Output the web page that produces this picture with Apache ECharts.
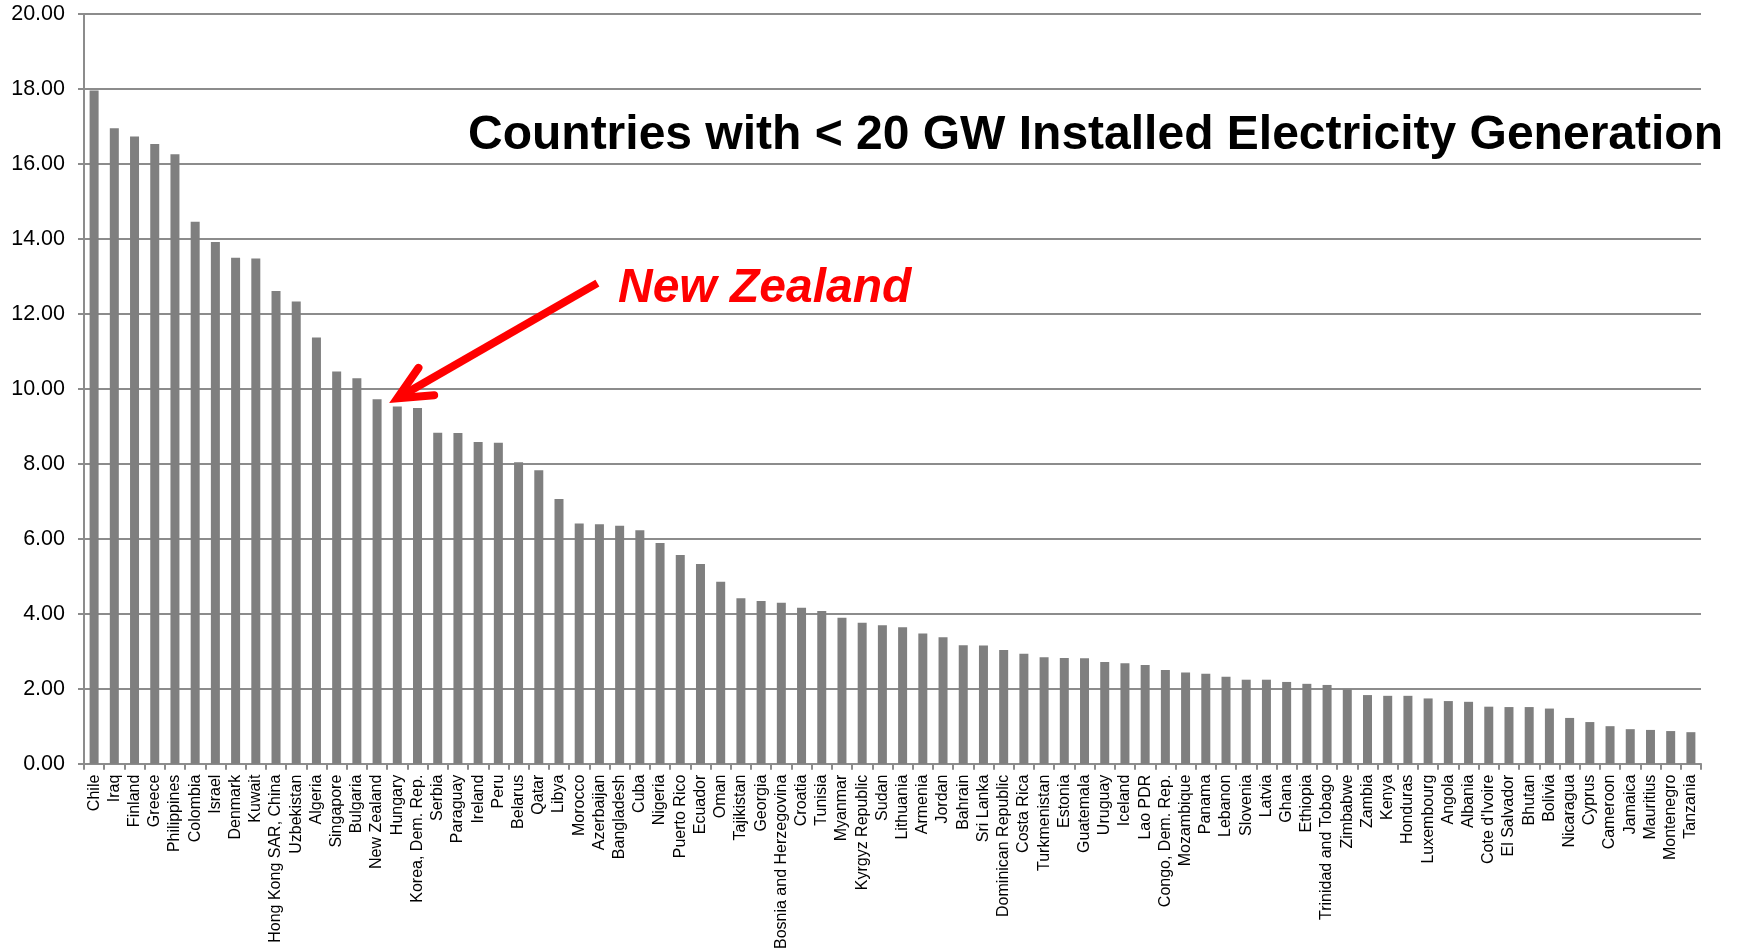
<!DOCTYPE html>
<html>
<head>
<meta charset="utf-8">
<script src="https://cdn.jsdelivr.net/npm/echarts@6/dist/echarts.min.js"></script>
<style>
html,body{margin:0;padding:0;background:#fff;}
#main{width:1739px;height:952px;}
</style>
</head>
<body>
<div id="main"></div>
<script>
const countries = ["Chile","Iraq","Finland","Greece","Philippines","Colombia","Israel","Denmark","Kuwait","Hong Kong SAR, China","Uzbekistan","Algeria","Singapore","Bulgaria","New Zealand","Hungary","Korea, Dem. Rep.","Serbia","Paraguay","Ireland","Peru","Belarus","Qatar","Libya","Morocco","Azerbaijan","Bangladesh","Cuba","Nigeria","Puerto Rico","Ecuador","Oman","Tajikistan","Georgia","Bosnia and Herzegovina","Croatia","Tunisia","Myanmar","Kyrgyz Republic","Sudan","Lithuania","Armenia","Jordan","Bahrain","Sri Lanka","Dominican Republic","Costa Rica","Turkmenistan","Estonia","Guatemala","Uruguay","Iceland","Lao PDR","Congo, Dem. Rep.","Mozambique","Panama","Lebanon","Slovenia","Latvia","Ghana","Ethiopia","Trinidad and Tobago","Zimbabwe","Zambia","Kenya","Honduras","Luxembourg","Angola","Albania","Cote d'Ivoire","El Salvador","Bhutan","Bolivia","Nicaragua","Cyprus","Cameroon","Jamaica","Mauritius","Montenegro","Tanzania"];
const values = [17.96,16.95,16.73,16.53,16.26,14.46,13.92,13.50,13.48,12.61,12.33,11.37,10.46,10.28,9.72,9.53,9.49,8.83,8.82,8.58,8.56,8.04,7.83,7.06,6.41,6.39,6.35,6.23,5.89,5.57,5.33,4.85,4.41,4.34,4.29,4.16,4.07,3.89,3.76,3.69,3.64,3.47,3.37,3.16,3.15,3.03,2.93,2.84,2.82,2.81,2.71,2.68,2.63,2.50,2.43,2.40,2.32,2.24,2.24,2.18,2.13,2.10,1.98,1.83,1.81,1.81,1.74,1.67,1.65,1.52,1.51,1.51,1.47,1.22,1.11,1.00,0.92,0.90,0.87,0.84];
const yTicks = {min: 0, max: 20, interval: 2};
const titleText = "Countries with < 20 GW Installed Electricity Generation";
const calloutText = "New Zealand";
const calloutCountry = "New Zealand";

const chart = echarts.init(document.getElementById('main'), null, {renderer: 'canvas'});
const gridColor = '#8c8c8c';
const font = 'Liberation Sans, Arial, sans-serif';

chart.setOption({
  animation: false,
  backgroundColor: '#ffffff',
  grid: {left: 84, right: 38, top: 14, bottom: 181, containLabel: false},
  xAxis: {
    type: 'category',
    data: countries,
    boundaryGap: true,
    axisLine: {show: true, lineStyle: {color: gridColor, width: 2}},
    axisTick: {show: true, length: 6, alignWithLabel: false, interval: 0, lineStyle: {color: gridColor, width: 2}},
    axisLabel: {interval: 0, rotate: 90, fontSize: 16, color: '#000', fontFamily: font, margin: 11},
    splitLine: {show: false}
  },
  yAxis: {
    type: 'value',
    min: yTicks.min, max: yTicks.max, interval: yTicks.interval,
    axisLine: {show: true, lineStyle: {color: gridColor, width: 2}},
    axisTick: {show: true, length: 6, lineStyle: {color: gridColor, width: 2}},
    axisLabel: {fontSize: 21.5, color: '#000', fontFamily: font, margin: 19, formatter: v => v.toFixed(2)},
    splitLine: {show: true, lineStyle: {color: gridColor, width: 2}}
  },
  series: [{
    type: 'bar',
    data: values,
    barWidth: 9,
    itemStyle: {color: '#7f7f7f'}
  }]
});

// annotation positions derived from the axes
const iNZ = countries.indexOf(calloutCountry);
const p0 = chart.convertToPixel({seriesIndex: 0}, [iNZ, 9.75]);
const p1 = chart.convertToPixel({seriesIndex: 0}, [iNZ + 1, 9.75]);
const band = p1[0] - p0[0];
const tip = [p0[0] + band * 1.0, p0[1]];
const sPt = chart.convertToPixel({seriesIndex: 0}, [iNZ + 10, 12.82]);
const start = [sPt[0] + band * 0.9, sPt[1]];
const ang = Math.atan2(start[1] - tip[1], start[0] - tip[0]);
const armLen = 37, spread = 0.44;
const a1 = [tip[0] + armLen * Math.cos(ang + spread), tip[1] + armLen * Math.sin(ang + spread)];
const a2 = [tip[0] + armLen * Math.cos(ang - spread), tip[1] + armLen * Math.sin(ang - spread)];

chart.setOption({
  graphic: [
    {type: 'text', left: 468, top: 112, style: {text: titleText, font: 'bold 48px ' + font, fill: '#000'}},
    {type: 'text', left: 618, top: 265, style: {text: calloutText, font: 'italic bold 48px ' + font, fill: '#ff0000'}},
    {type: 'line', shape: {x1: start[0], y1: start[1], x2: tip[0] + 4*Math.cos(ang), y2: tip[1] + 4*Math.sin(ang)}, style: {stroke: '#ff0000', lineWidth: 8, lineCap: 'butt'}},
    {type: 'polyline', shape: {points: [a1, tip, a2]}, style: {stroke: '#ff0000', lineWidth: 8, lineJoin: 'miter', lineCap: 'round', fill: null}}
  ]
});
</script>
</body>
</html>
